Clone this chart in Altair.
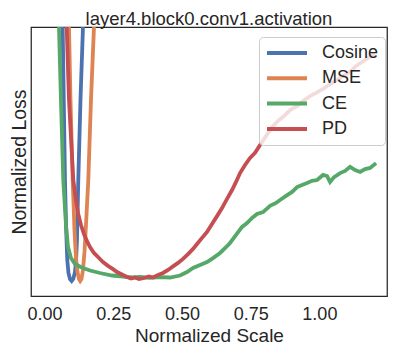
import altair as alt
import pandas as pd

series_names = ["Cosine", "MSE", "CE", "PD"]
series_colors = ["#4C72B0", "#DD8452", "#55A868", "#C44E52"]
x_ticks = [0.0, 0.25, 0.5, 0.75, 1.0]

cosine_x = [0.0630, 0.0662, 0.0702, 0.0746, 0.0790, 0.0830, 0.0873, 0.0928, 0.0990,
            0.1048, 0.1110, 0.1146, 0.1183, 0.1230, 0.1310, 0.1401, 0.1437]
cosine_y = [1.212, 1.000, 0.729, 0.431, 0.245, 0.134, 0.0855, 0.0632, 0.0558,
            0.0632, 0.0892, 0.126, 0.208, 0.431, 0.729, 1.000, 1.138]

mse_x = [0.0862, 0.0892, 0.0946, 0.1026, 0.1092, 0.1146, 0.1201, 0.1255, 0.1299,
         0.1346, 0.1401, 0.1456, 0.1510, 0.1594, 0.1692, 0.1801, 0.1856]
mse_y = [1.212, 1.000, 0.729, 0.431, 0.245, 0.141, 0.0892, 0.0632, 0.0558,
         0.0632, 0.0967, 0.164, 0.264, 0.431, 0.729, 1.000, 1.156]

ce_x = [0.0502, 0.0528, 0.0600, 0.0684, 0.0728, 0.0782, 0.0855, 0.0964, 0.1110, 0.1354,
        0.1656, 0.2020, 0.2456, 0.2857, 0.3184, 0.3475, 0.3839, 0.4203, 0.4567, 0.4931,
        0.5186, 0.5404, 0.5659, 0.5913, 0.6132, 0.6387, 0.6605, 0.6750, 0.6969, 0.7187,
        0.7369, 0.7551, 0.7733, 0.7951, 0.8206, 0.8424, 0.8570, 0.8788, 0.9006, 0.9188,
        0.9370, 0.9552, 0.9734, 0.9916, 1.0135, 1.0280, 1.0389, 1.0535, 1.0753, 1.0935,
        1.1117, 1.1299, 1.1481, 1.1663, 1.1845, 1.2063]
ce_y = [1.212, 1.000, 0.729, 0.431, 0.357, 0.264, 0.183, 0.141, 0.119, 0.106,
        0.0948, 0.0855, 0.0762, 0.0725, 0.0688, 0.0706, 0.0677, 0.0699, 0.0688, 0.0762,
        0.0892, 0.104, 0.115, 0.126, 0.141, 0.160, 0.182, 0.197, 0.227, 0.257,
        0.271, 0.290, 0.305, 0.312, 0.335, 0.346, 0.357, 0.372, 0.387, 0.405,
        0.413, 0.420, 0.428, 0.431, 0.450, 0.446, 0.424, 0.442, 0.457, 0.465,
        0.480, 0.468, 0.461, 0.472, 0.476, 0.494]

pd_x = [0.0775, 0.0808, 0.0892, 0.1048, 0.1146, 0.1219, 0.1328, 0.1437, 0.1547, 0.1656,
        0.1801, 0.1947, 0.2129, 0.2311, 0.2493, 0.2638, 0.2820, 0.3002, 0.3148, 0.3293,
        0.3439, 0.3621, 0.3803, 0.3948, 0.4130, 0.4312, 0.4494, 0.4676, 0.4858, 0.5040,
        0.5222, 0.5404, 0.5550, 0.5732, 0.5913, 0.6095, 0.6277, 0.6459, 0.6641, 0.6823,
        0.6969, 0.7114, 0.7296, 0.7478, 0.7660, 0.7842, 0.8060, 0.8279, 0.8497, 0.8715,
        0.8934, 0.9188, 0.9407, 0.9661, 0.9879, 1.0135, 1.0389, 1.0644, 1.0862, 1.1117,
        1.1336, 1.1554, 1.1772, 1.2026]
pd_y = [1.212, 1.000, 0.729, 0.431, 0.357, 0.309, 0.264, 0.230, 0.204, 0.182,
        0.160, 0.145, 0.126, 0.112, 0.100, 0.0892, 0.0799, 0.0706, 0.0651, 0.0688,
        0.0632, 0.0669, 0.0725, 0.0688, 0.0781, 0.0855, 0.0967, 0.110, 0.123, 0.138,
        0.156, 0.175, 0.193, 0.216, 0.238, 0.268, 0.297, 0.327, 0.361, 0.394,
        0.424, 0.457, 0.487, 0.513, 0.532, 0.561, 0.595, 0.628, 0.651, 0.669,
        0.691, 0.706, 0.725, 0.743, 0.755, 0.770, 0.788, 0.803, 0.818, 0.833,
        0.855, 0.870, 0.885, 0.900]

frames = []
for name, xs, ys in [("Cosine", cosine_x, cosine_y), ("MSE", mse_x, mse_y),
                     ("CE", ce_x, ce_y), ("PD", pd_x, pd_y)]:
    frames.append(pd.DataFrame({"series": name, "x": xs, "y": ys, "i": list(range(len(xs)))}))
df = pd.concat(frames, ignore_index=True)

FONT = "Liberation Sans"
TEXT = "#262626"

x_enc = alt.X("x:Q", scale=alt.Scale(domain=[-0.049, 1.246], nice=False, zero=False),
              axis=alt.Axis(values=x_ticks, format=".2f", title="Normalized Scale", grid=False,
                            ticks=False, tickSize=0, domain=False, labelFlush=False,
                            labelFontSize=18, labelPadding=9, labelFont=FONT, labelColor=TEXT,
                            titleFontSize=19, titleFont=FONT, titleColor=TEXT,
                            titleFontWeight="normal", titlePadding=3.5))
y_enc = alt.Y("y:Q", scale=alt.Scale(domain=[0, 1], nice=False, zero=False),
              axis=alt.Axis(labels=False, ticks=False, domain=False, grid=False,
                            title="Normalized Loss", titleFontSize=19.5, titleFont=FONT,
                            titleColor=TEXT, titleFontWeight="normal", titlePadding=2))
color_enc = alt.Color("series:N", scale=alt.Scale(domain=series_names, range=series_colors),
                      legend=alt.Legend(title=None, orient="none", legendX=228, legendY=10,
                                        symbolType="stroke", symbolSize=1600, symbolStrokeWidth=4,
                                        clipHeight=20, rowPadding=5.3, labelFontSize=18,
                                        labelFont=FONT, labelColor=TEXT, labelOffset=13,
                                        padding=6, fillColor="rgba(255,255,255,0.8)",
                                        strokeColor="#cccccc", cornerRadius=4))

layers = []
for name in series_names:
    layers.append(
        alt.Chart(df).transform_filter(alt.datum.series == name)
        .mark_line(clip=True, strokeWidth=3.8)
        .encode(x=x_enc, y=y_enc, color=color_enc, order="i:Q")
    )

chart = alt.layer(*layers).properties(
    width=356, height=269,
    title=alt.TitleParams("layer4.block0.conv1.activation", fontSize=18.5, font=FONT,
                          fontWeight="normal", color=TEXT, anchor="middle", offset=-1.5),
    autosize=alt.AutoSizeParams(type="none"),
    padding={"left": 23, "top": 19, "right": 4, "bottom": 55},
).configure_view(stroke=TEXT, strokeWidth=1.25)

chart.save("out.html", embed_options={"renderer": "svg", "actions": False})
